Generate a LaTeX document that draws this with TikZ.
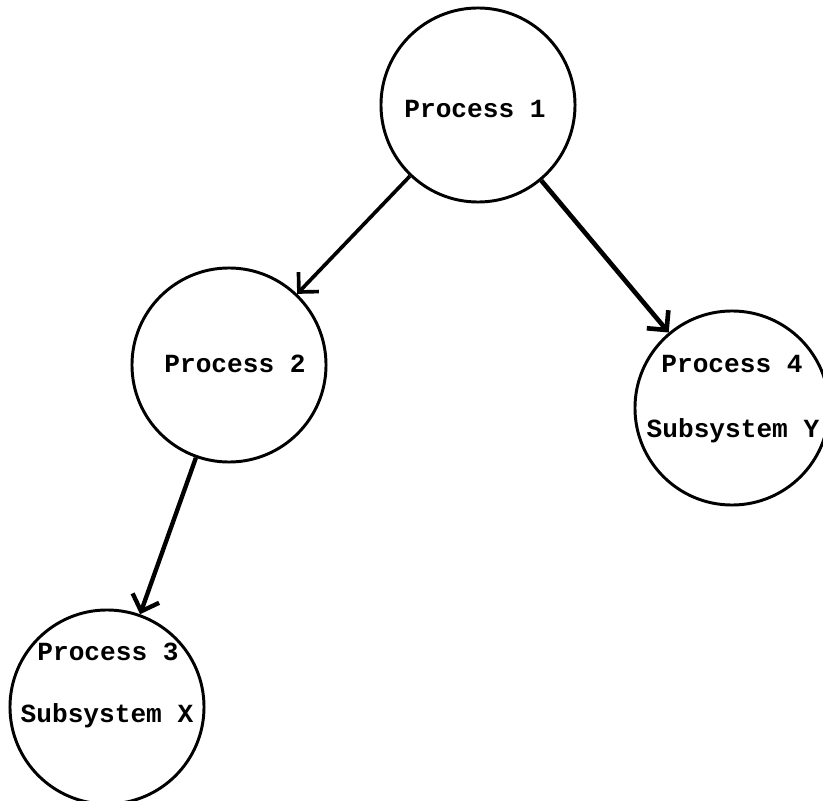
\documentclass[tikz,border=0pt]{standalone}
\usepackage{fontspec}
\setmonofont{Liberation Mono}
\usetikzlibrary{arrows.meta}
\begin{document}
\begin{tikzpicture}[x=0.025cm,y=-0.025cm,>={Straight Barb[length=10pt,width=20pt]},
        proc/.style={draw,circle,line width=2.1pt,minimum size=4.85cm,inner sep=0pt},
        txt/.style={font=\fontsize{18.6}{20}\selectfont\ttfamily\bfseries,inner sep=0pt},
        flow/.style={->,line width=2.6pt}]

        % Cadre de l'image
        \useasboundingbox (0,0) rectangle (823,801);

        % Dessiner les cercles des processus
        \node[proc] (p1) at (478,105) {};
        \node[proc] (p2) at (229,365) {};
        \node[proc] (p4) at (732,408) {};
        \node[proc] (p3) at (107,707) {};

        % Ajouter les textes dans les cercles
        \node[txt] (t1) at (475,109) {Process 1};
        \node[txt] (t2) at (235,364) {Process 2};
        \node[txt] (t4) at (732,364) {Process 4};
        \node[txt] (t4b) at (733,431) {Subsystem Y};
        \node[txt] (t3) at (108,652) {Process 3};
        \node[txt] (t3b) at (107,716) {Subsystem X};

        % Dessiner les fleches entre les processus
        \draw[flow] (p1) -- (p2);
        \draw[flow,line width=3.3pt] (p1) -- (p4);
        \draw[flow,line width=3.1pt] (p2) -- (p3);
    \end{tikzpicture}
\end{document}
